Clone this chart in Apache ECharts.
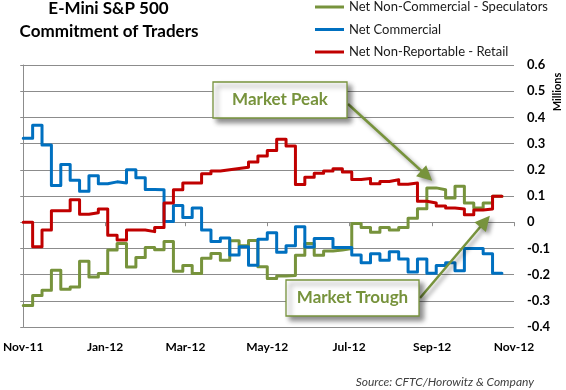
<!DOCTYPE html>
<html><head><meta charset="utf-8">
<script src="https://cdn.jsdelivr.net/npm/echarts@6/dist/echarts.min.js"></script>
<style>html,body{margin:0;padding:0;background:#fff}#c{width:566px;height:390px}</style>
</head><body><div id="c"></div>
<script>
const weeks = ['2011-11-01','2011-11-08','2011-11-15','2011-11-22','2011-11-29',
'2011-12-06','2011-12-13','2011-12-20','2011-12-27',
'2012-01-03','2012-01-10','2012-01-17','2012-01-24','2012-01-31',
'2012-02-07','2012-02-14','2012-02-21','2012-02-28',
'2012-03-06','2012-03-13','2012-03-20','2012-03-27',
'2012-04-03','2012-04-10','2012-04-17','2012-04-24',
'2012-05-01','2012-05-08','2012-05-15','2012-05-22','2012-05-29',
'2012-06-05','2012-06-12','2012-06-19','2012-06-26',
'2012-07-03','2012-07-10','2012-07-17','2012-07-24','2012-07-31',
'2012-08-07','2012-08-14','2012-08-21','2012-08-28',
'2012-09-04','2012-09-11','2012-09-18','2012-09-25',
'2012-10-02','2012-10-09','2012-10-16','2012-10-23'];
const speculators = [-0.318,-0.28,-0.26,-0.183,-0.256,-0.247,-0.149,-0.209,-0.196,-0.106,-0.081,-0.171,-0.135,-0.097,-0.105,-0.074,-0.187,-0.165,-0.196,-0.138,-0.119,-0.145,-0.071,-0.09,-0.07,-0.17,-0.215,-0.205,-0.203,-0.126,-0.081,-0.126,-0.11,-0.106,-0.1,-0.005,-0.02,-0.038,-0.02,-0.03,-0.02,0.015,0.051,0.131,0.124,0.092,0.137,0.073,0.054,0.073,0.099,0.099];
const commercial = [0.32,0.37,0.295,0.14,0.22,0.16,0.118,0.177,0.147,0.154,0.15,0.2,0.17,0.125,0.124,0.003,0.064,0.018,0.054,-0.03,-0.074,-0.06,-0.125,-0.094,-0.164,-0.065,-0.04,-0.115,-0.09,-0.017,-0.095,-0.062,-0.062,-0.097,-0.097,-0.125,-0.155,-0.12,-0.145,-0.113,-0.14,-0.19,-0.14,-0.195,-0.165,-0.155,-0.185,-0.1,-0.1,-0.12,-0.195,-0.195];
const retail = [0,-0.094,-0.03,0.044,0.044,0.086,0.03,0.036,0.05,-0.05,-0.068,-0.03,-0.03,-0.036,-0.02,0.073,0.124,0.15,0.15,0.185,0.195,0.2,0.205,0.21,0.23,0.253,0.274,0.317,0.291,0.144,0.172,0.187,0.195,0.204,0.192,0.163,0.167,0.147,0.155,0.162,0.145,0.15,0.08,0.073,0.062,0.054,0.05,0.028,0.047,0.05,0.099,0.099];
const seriesNames = ['Net Non-Commercial - Speculators','Net Commercial','Net Non-Reportable - Retail'];
const seriesColors = ['#77933C','#0070C0','#C00000'];
const tickDates = ['2011-11-01','2012-01-01','2012-03-01','2012-05-01','2012-07-01','2012-09-01','2012-11-01'];
const tickLabels = ['Nov-11','Jan-12','Mar-12','May-12','Jul-12','Sep-12','Nov-12'];
const yMin = -0.4, yMax = 0.6, yStep = 0.1;
// annotation arrow tips in data space
const peakTip = ['2012-09-01', 0.158];
const troughTip = ['2012-10-14', 0.025];

function ts(s){const p=s.split('-').map(Number);return new Date(p[0],p[1]-1,p[2]).getTime();}
const tickTs = tickDates.map(ts);
function labelFor(v){let best=0,bd=Infinity;tickTs.forEach((t,i)=>{const d=Math.abs(t-v);if(d<bd){bd=d;best=i;}});return bd<86400000?tickLabels[best]:'';}
function pairs(vals){return weeks.map((w,i)=>[ts(w), vals[i]]);}
const GRAY = '#8c8c8c';
const FONT = 'Lato';

const chart = echarts.init(document.getElementById('c'), null, {renderer:'canvas'});
const seriesData = [speculators, commercial, retail];
chart.setOption({
  animation:false,
  backgroundColor:'#fff',
  grid:{left:23, right:52, top:65, bottom:63, containLabel:false},
  legend:{orient:'vertical', left:315, top:-1, padding:0, itemWidth:29, itemHeight:3, itemGap:6.5,
    icon:'rect', data:seriesNames,
    textStyle:{fontSize:13, fontFamily:FONT, color:'#1a1a1a', lineHeight:16}},
  xAxis:[
    {type:'value', min:tickTs[0], max:tickTs[tickTs.length-1], position:'bottom',
     axisLine:{show:false, onZero:false}, axisTick:{show:false}, splitLine:{show:false},
     axisLabel:{customValues:tickTs, formatter:v=>labelFor(v), fontWeight:'bold', fontSize:12,
       fontFamily:FONT, color:'#000', margin:14, showMinLabel:true, showMaxLabel:true, hideOverlap:false}},
    {type:'value', min:tickTs[0], max:tickTs[tickTs.length-1], position:'bottom',
     axisLine:{show:true, onZero:true, lineStyle:{color:GRAY, width:1}},
     axisTick:{show:true, customValues:tickTs, length:4, lineStyle:{color:GRAY}},
     axisLabel:{show:false}, splitLine:{show:false}}
  ],
  yAxis:[
    {type:'value', position:'right', min:yMin, max:yMax, interval:yStep,
     axisLine:{show:false}, axisTick:{show:false},
     splitLine:{show:true, lineStyle:{color:GRAY, width:1}},
     axisLabel:{fontWeight:'bold', fontSize:13, fontFamily:FONT, color:'#000', margin:13, align:'left',
       formatter:v=>String(+v.toFixed(1))}},
    {type:'value', position:'left', min:yMin, max:yMax, interval:yStep,
     axisLine:{show:true, lineStyle:{color:GRAY, width:1}},
     axisTick:{show:true, length:3, lineStyle:{color:GRAY}},
     axisLabel:{show:false}, splitLine:{show:false}}
  ],
  series: seriesNames.map((n,i)=>({
    name:n, type:'line', step:'end', xAxisIndex:0, yAxisIndex:0, symbol:'none',
    color:seriesColors[i],
    lineStyle:{width:3, color:seriesColors[i], join:'round', cap:'round'},
    data:pairs(seriesData[i])
  }))
});

function arrow(x1,y1,x2,y2){
  const dx=x2-x1, dy=y2-y1, L=Math.hypot(dx,dy), ux=dx/L, uy=dy/L;
  const hl=15, hw=7.5;
  const bx=x2-ux*hl, by=y2-uy*hl;
  const sh={shadowBlur:4, shadowOffsetX:3, shadowOffsetY:3, shadowColor:'rgba(0,0,0,0.4)'};
  return [
    {type:'line', z:100, shape:{x1:x1,y1:y1,x2:bx+ux*2,y2:by+uy*2},
     style:Object.assign({stroke:'#77933C', lineWidth:2.5}, sh)},
    {type:'polygon', z:100, shape:{points:[[x2,y2],[bx-uy*hw,by+ux*hw],[bx+uy*hw,by-ux*hw]]},
     style:Object.assign({fill:'#77933C'}, sh)}
  ];
}
function box(x,y,w,h,text){
  return [
    {type:'rect', z:101, shape:{x:x,y:y,width:w,height:h},
     style:{fill:'#fff', stroke:'#77933C', lineWidth:1.3, shadowBlur:5, shadowOffsetX:4, shadowOffsetY:4, shadowColor:'rgba(0,0,0,0.45)'}},
    {type:'text', z:102, x:x+w/2, y:y+h/2,
     style:{text:text, font:'bold 17px '+FONT, fill:'#77933C', align:'center', verticalAlign:'middle'}}
  ];
}
const pk = chart.convertToPixel({xAxisIndex:0, yAxisIndex:0}, [ts(peakTip[0]), peakTip[1]]);
const tr = chart.convertToPixel({xAxisIndex:0, yAxisIndex:0}, [ts(troughTip[0]), troughTip[1]]);
const g = [].concat(
  arrow(348,104,pk[0],pk[1]),
  arrow(420,298,tr[0],tr[1]),
  box(213,82,134,36,'Market Peak'),
  box(286,280,133,36,'Market Trough'),
  [
    {type:'text', z:50, x:108.5, y:9, style:{text:'E-Mini S&P 500', font:'bold 17px '+FONT, fill:'#000', align:'center', verticalAlign:'middle'}},
    {type:'text', z:50, x:109, y:32, style:{text:'Commitment of Traders', font:'bold 17px '+FONT, fill:'#000', align:'center', verticalAlign:'middle'}},
    {type:'text', z:50, x:557, y:92, rotation:Math.PI/2, style:{text:'Millions', font:'bold 11px '+FONT, fill:'#000', align:'center', verticalAlign:'middle'}},
    {type:'text', z:50, x:534, y:382, style:{text:'Source: CFTC/Horowitz & Company', font:'italic 12px '+FONT, fill:'#404040', align:'right', verticalAlign:'middle'}}
  ]
);
chart.setOption({graphic:g});
</script></body></html>
